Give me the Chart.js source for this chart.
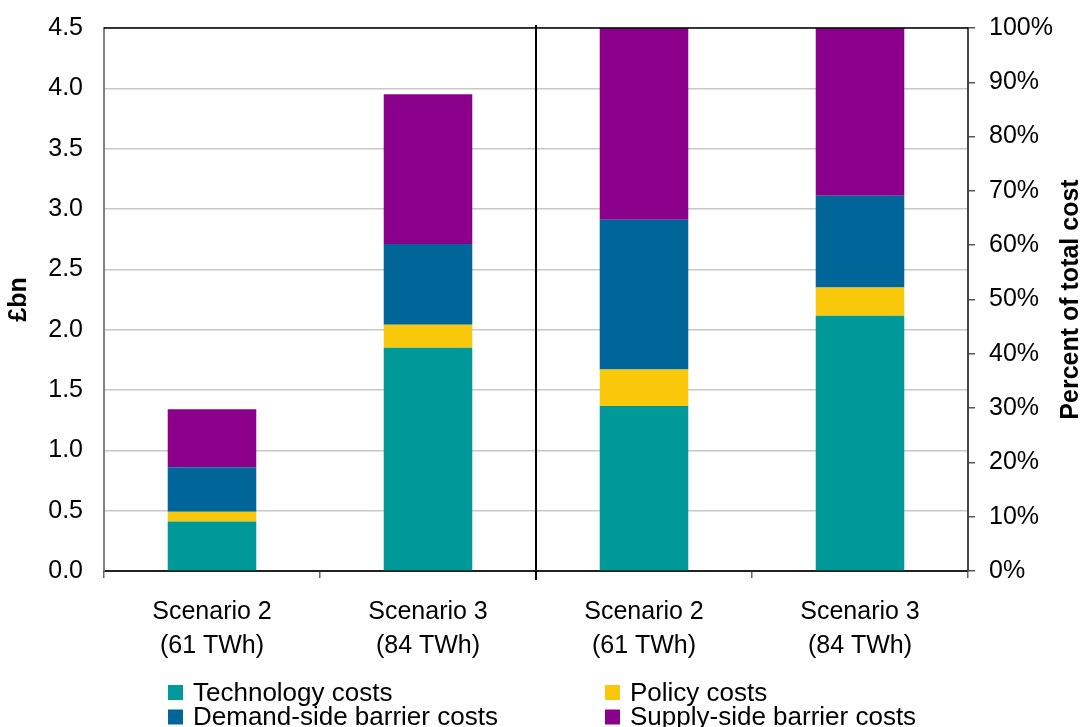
<!DOCTYPE html>
<html>
<head>
<meta charset="utf-8">
<style>
  html, body { margin: 0; padding: 0; background: #ffffff; }
  #wrap { width: 1083px; height: 727px; position: relative; }
</style>
<script src="https://cdn.jsdelivr.net/npm/chart.js@4/dist/chart.umd.min.js"></script>
</head>
<body>
<div id="wrap"><canvas id="chart" width="1083" height="727"></canvas></div>
<script>
// Categories: two scenarios in £bn, then the same two as shares of total cost
const categories = [
  ['Scenario 2', '(61 TWh)'],
  ['Scenario 3', '(84 TWh)'],
  ['Scenario 2', '(61 TWh)'],
  ['Scenario 3', '(84 TWh)']
];
const seriesNames = ['Technology costs', 'Policy costs', 'Demand-side barrier costs', 'Supply-side barrier costs'];
const seriesColors = ['#009999', '#F9C80A', '#006699', '#8B008B'];

// Absolute costs, £bn (Scenario 2, Scenario 3)
const technologyBn = [0.41, 1.85];
const policyBn     = [0.08, 0.19];
const demandBn     = [0.37, 0.67];
const supplyBn     = [0.48, 1.24];

// Share of total cost, % (Scenario 2, Scenario 3)
const technologyPct = [30.4, 47.0];
const policyPct     = [6.7, 5.2];
const demandPct     = [27.6, 16.9];
const supplyPct     = [35.3, 30.9];

// Axis tick ranges
const bnTicks  = { min: 0, max: 4.5, step: 0.5 };
const pctTicks = { min: 0, max: 100, step: 10 };

const FONT = "'Liberation Sans', Arial, Helvetica, sans-serif";

const bnSeries  = [technologyBn, policyBn, demandBn, supplyBn];
const pctSeries = [technologyPct, policyPct, demandPct, supplyPct];

const datasets = [];
bnSeries.forEach((vals, i) => {
  datasets.push({
    label: seriesNames[i],
    data: [vals[0], vals[1], null, null],
    backgroundColor: seriesColors[i],
    yAxisID: 'y',
    categoryPercentage: 1,
    barPercentage: 0.41
  });
});
pctSeries.forEach((vals, i) => {
  datasets.push({
    label: seriesNames[i] + ' (%)',
    data: [null, null, vals[0], vals[1]],
    backgroundColor: seriesColors[i],
    yAxisID: 'y1',
    categoryPercentage: 1,
    barPercentage: 0.41
  });
});

// Frame line on top, the divider between the £bn and % halves, right-hand title and legend
const decor = {
  id: 'decor',
  afterDatasetsDraw(chart) {
    const { ctx, chartArea: a, scales } = chart;
    const x = scales.x;
    ctx.save();
    // top frame
    ctx.strokeStyle = '#000000';
    ctx.lineWidth = 1.5;
    ctx.beginPath();
    ctx.moveTo(a.left, a.top);
    ctx.lineTo(a.right, a.top);
    ctx.stroke();
    // divider between the second and third category
    const mid = (x.getPixelForValue(1) + x.getPixelForValue(2)) / 2;
    ctx.lineWidth = 2;
    ctx.beginPath();
    ctx.moveTo(mid, a.top - 3);
    ctx.lineTo(mid, a.bottom + 9);
    ctx.stroke();
    ctx.restore();
  },
  afterDraw(chart) {
    const { ctx, chartArea: a } = chart;
    ctx.save();
    // right axis title, reading bottom to top
    ctx.translate(1071, (a.top + a.bottom) / 2);
    ctx.rotate(-Math.PI / 2);
    ctx.font = 'bold 25px ' + FONT;
    ctx.fillStyle = '#000000';
    ctx.textAlign = 'center';
    ctx.textBaseline = 'middle';
    ctx.fillText('Percent of total cost', 0, 0);
    ctx.restore();

    // legend, two columns
    const cols = [168, 605];
    const rows = [692.5, 717];
    ctx.save();
    ctx.font = '26px ' + FONT;
    ctx.textBaseline = 'middle';
    ctx.textAlign = 'left';
    seriesNames.forEach((name, i) => {
      const cx = cols[i % 2];
      const cy = rows[Math.floor(i / 2)];
      ctx.fillStyle = seriesColors[i];
      ctx.fillRect(cx, cy - 7.5, 15, 15);
      ctx.fillStyle = '#000000';
      ctx.fillText(name, cx + 25, cy + 1);
    });
    ctx.restore();
  }
};

// Fixed axis box sizes; the plot frame is set by the layout padding alone
function fixVertical(width) {
  return s => {
    s.width = width;
    s.paddingTop = 0;
    s.paddingBottom = 0;
  };
}

new Chart(document.getElementById('chart'), {
  type: 'bar',
  data: { labels: categories, datasets },
  plugins: [decor],
  options: {
    responsive: false,
    animation: false,
    layout: { padding: { top: 28, left: 0, right: 0, bottom: 0 } },
    plugins: {
      legend: { display: false },
      tooltip: { enabled: false },
      title: { display: false }
    },
    scales: {
      x: {
        stacked: true,
        offset: true,
        grid: { display: true, drawOnChartArea: false, offset: true, tickLength: 7, color: '#666666', lineWidth: 1.5 },
        border: { display: true, color: '#222222', width: 2 },
        ticks: {
          color: '#000000',
          padding: 17,
          maxRotation: 0,
          autoSkip: false,
          font: { family: FONT, size: 25, lineHeight: 1.36 }
        },
        afterFit(s) { s.height = 156; s.paddingLeft = 0; s.paddingRight = 0; }
      },
      y: {
        type: 'linear',
        position: 'left',
        stacked: true,
        min: bnTicks.min,
        max: bnTicks.max,
        grid: { color: '#c8c8c8', lineWidth: 1.5, drawTicks: false },
        border: { display: true, color: '#808080', width: 2 },
        ticks: {
          stepSize: bnTicks.step,
          color: '#000000',
          padding: 21,
          font: { family: FONT, size: 25 },
          callback: v => Number(v).toFixed(1)
        },
        title: {
          display: true,
          text: '£bn',
          color: '#000000',
          padding: { top: 4, bottom: 0 },
          font: { family: FONT, size: 25, weight: 'bold' }
        },
        afterFit: fixVertical(104)
      },
      y1: {
        type: 'linear',
        position: 'right',
        stacked: true,
        min: pctTicks.min,
        max: pctTicks.max,
        grid: { drawOnChartArea: false, tickLength: 7, color: '#555555', lineWidth: 1.5 },
        border: { display: true, color: '#444444', width: 2 },
        ticks: {
          stepSize: pctTicks.step,
          color: '#000000',
          padding: 14,
          font: { family: FONT, size: 25 },
          callback: v => v + '%'
        },
        afterFit: fixVertical(115)
      }
    }
  }
});
</script>
</body>
</html>
